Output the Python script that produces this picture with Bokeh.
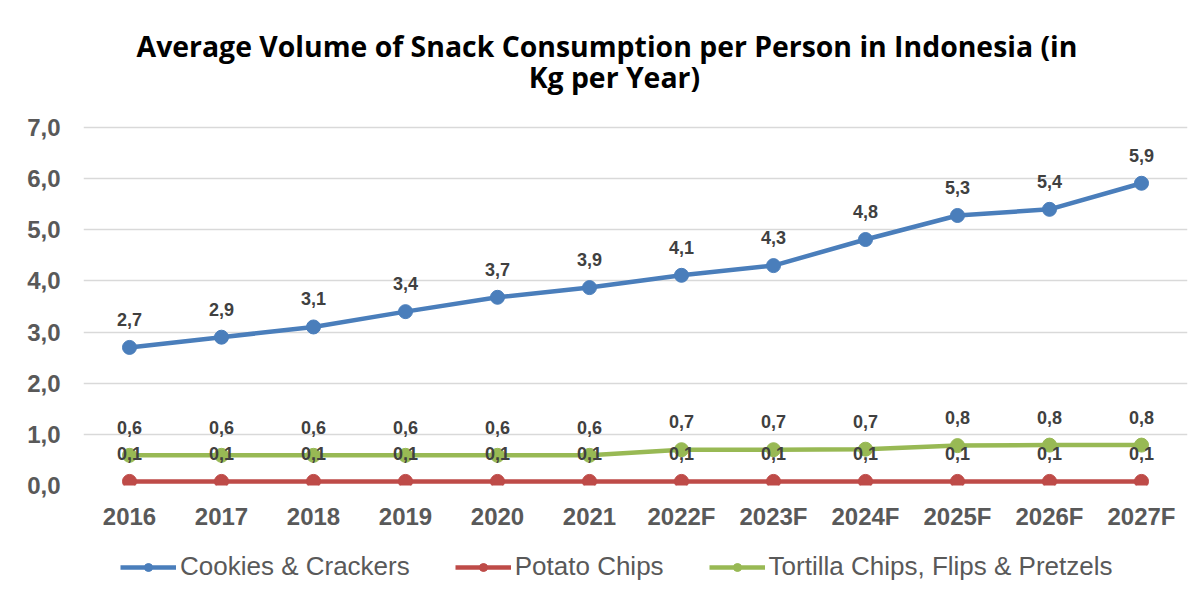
from bokeh.plotting import figure
from bokeh.layouts import column
from bokeh.models import (ColumnDataSource, FactorRange, Range1d, Label, Legend,
                          LegendItem, FixedTicker)
from bokeh.core.properties import value
from bokeh.embed import file_html
from bokeh.resources import INLINE

# ---------------- data ----------------
years = ["2016", "2017", "2018", "2019", "2020", "2021",
         "2022F", "2023F", "2024F", "2025F", "2026F", "2027F"]
cookies = [2.70, 2.90, 3.10, 3.40, 3.68, 3.87, 4.11, 4.30, 4.81, 5.28, 5.40, 5.91]
potato = [0.08] * 12
tortilla = [0.59, 0.59, 0.59, 0.59, 0.59, 0.59, 0.70, 0.70, 0.71, 0.78, 0.79, 0.79]
series_names = ["Cookies & Crackers", "Potato Chips", "Tortilla Chips, Flips & Pretzels"]
y_ticks = [0, 1, 2, 3, 4, 5, 6, 7]
y_tick_labels = ["0,0", "1,0", "2,0", "3,0", "4,0", "5,0", "6,0", "7,0"]
title_lines = ["Average Volume  of Snack Consumption  per Person in Indonesia (in",
               "Kg per Year)"]

colors = ["#4A7EBB", "#BE4B48", "#98B954"]
keys = ["cookies", "potato", "tortilla"]


def fmt(v):
    return f"{v:.1f}".replace(".", ",")


src = ColumnDataSource(dict(
    year=years,
    cookies=cookies, potato=potato, tortilla=tortilla,
    cookies_lbl=[fmt(v) for v in cookies],
    potato_lbl=[fmt(v) for v in potato],
    tortilla_lbl=[fmt(v) for v in tortilla],
))

# main chart: frame reaches the top of the canvas so the title fits inside it
p = figure(x_range=FactorRange(*years), y_range=Range1d(0, 9.484),
           width=1203, height=540, output_backend="svg", toolbar_location=None,
           min_border_left=83, min_border_right=16, min_border_top=0,
           min_border_bottom=55)
p.outline_line_color = None
p.background_fill_color = "white"
p.border_fill_color = "white"

p.yaxis.ticker = FixedTicker(ticks=y_ticks)
p.yaxis.major_label_overrides = {t: l for t, l in zip(y_ticks, y_tick_labels)}
for ax in (p.xaxis[0], p.yaxis[0]):
    ax.axis_line_color = None
    ax.major_tick_line_color = None
    ax.minor_tick_line_color = None
    ax.major_label_text_font = "Liberation Sans"
    ax.major_label_text_font_style = "bold"
    ax.major_label_text_font_size = "24px"
    ax.major_label_text_color = "#595959"
p.yaxis.major_label_standoff = 17
p.xaxis.major_label_standoff = 11
p.xgrid.grid_line_color = None
p.ygrid.grid_line_color = "#D9D9D9"
p.ygrid.grid_line_width = 1.5

for key, col in zip(keys, colors):
    p.line(x="year", y=key, source=src, line_color=col, line_width=4.5)
    p.scatter(x="year", y=key, source=src, size=14, fill_color=col, line_color=col)

for key in keys:
    p.text(x="year", y=key, text=key + "_lbl", source=src, y_offset=-28,
           text_align="center", text_baseline="middle",
           text_font=value("Liberation Sans"), text_font_style="bold",
           text_font_size="18px", text_color="#404040")

for txt, yy in zip(title_lines, [8.60, 7.99]):
    p.add_layout(Label(x=5.77, y=yy, text=txt, text_align="center",
                       text_baseline="middle", text_font="Open Sans",
                       text_font_style="bold", text_font_size="28.4px",
                       text_color="#000000"))

# legend strip below the chart (its frame is aligned with the chart's frame)
lg = figure(width=1203, height=56, x_range=Range1d(0, 1), y_range=Range1d(0, 1),
            output_backend="svg", toolbar_location=None,
            x_axis_location=None, y_axis_location=None,
            min_border_left=0, min_border_right=0, min_border_top=0,
            min_border_bottom=0)
lg.grid.visible = False
lg.outline_line_color = None
items = []
for name, col in zip(series_names, colors):
    # points placed outside the visible range: only the legend swatch shows
    lr = lg.line(x=[-5, -4], y=[-5, -5], line_color=col, line_width=4.5)
    sr = lg.scatter(x=[-5], y=[-5], size=14, fill_color=col, line_color=col)
    items.append(LegendItem(label=name, renderers=[lr, sr]))
legend = Legend(items=items, orientation="horizontal", location=(37, 14),
                border_line_color=None, background_fill_alpha=0,
                label_text_font="Liberation Sans", label_text_font_size="26px",
                label_text_color="#595959", glyph_width=56, glyph_height=20,
                label_standoff=4, spacing=45, padding=0, margin=0)
lg.add_layout(legend)

layout = column(p, lg, spacing=0)
open("out.html", "w").write(file_html(layout, INLINE))
